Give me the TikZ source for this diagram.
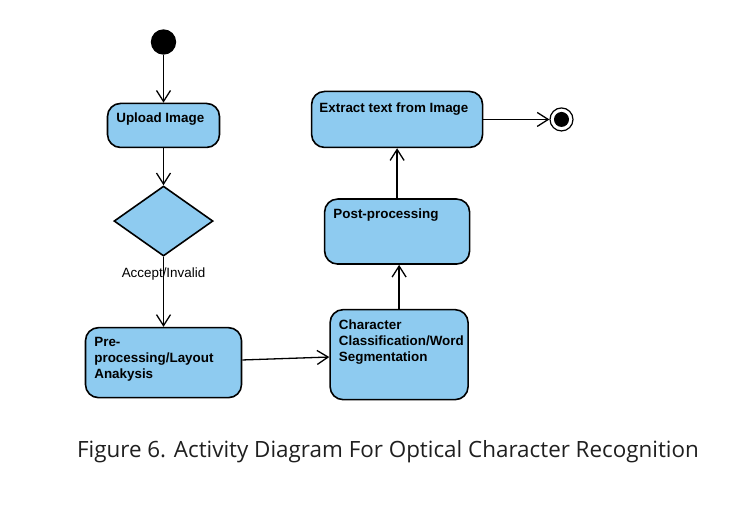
\documentclass[tikz,border=0pt]{standalone}
\usepackage{fontspec}
\setmainfont{Liberation Sans}
\newfontfamily\captionfont{Open Sans}
\usetikzlibrary{arrows.meta}
\usetikzlibrary{positioning}
\usetikzlibrary{shapes.geometric}
\tikzset{>={Straight Barb[length=11pt,width=14pt]}}
\definecolor{actblue}{RGB}{142,203,240}
\tikzstyle{act}=[draw,line width=1.6pt,rounded corners=13pt,fill=actblue,inner sep=0pt]
\tikzstyle{acttext}=[inner sep=0pt,align=left,font=\fontsize{13.4}{16}\selectfont\bfseries]

\begin{document}
\begin{tikzpicture}[x=1pt, y=-1pt, line width=1.3pt]
	\useasboundingbox (0,0) rectangle (748,513);
	% states
	\node[draw, circle, fill=black, minimum size=24pt, inner sep=0] (start) at (163.5,42) {};
	\node[act, minimum width=112pt, minimum height=44pt, below=48pt of start] (upload) {};
	\node[diamond, draw, fill=actblue, line width=1.6pt, minimum width=99pt, minimum height=70pt, inner sep=0, below=37pt of upload] (check) {};
	\node[act, minimum width=156pt, minimum height=70pt, below=70pt of check] (pre) {};
	\node[act, minimum width=138pt, minimum height=90pt, right=87pt of pre, yshift=8pt] (classify) {};
	\node[act, minimum width=145pt, minimum height=65pt, above=44pt of classify, xshift=-2pt] (post) {};
	\node[act, minimum width=171pt, minimum height=56pt, above=50pt of post] (extract) {};
	\node[draw, circle, fill=white, line width=1.2pt, minimum size=23pt, inner sep=0, right=66pt of extract,
		path picture={\fill[black] (path picture bounding box.center) circle (7.5pt);}] (end) {};
	% texts
	\node[acttext, below right=9pt and 9pt of upload.north west] (uploadtxt) {Upload Image};
	\node[acttext, below right=10pt and 9pt of pre.north west] (pretxt) {Pre-\\processing/Layout\\Anakysis};
	\node[acttext, below right=10pt and 9pt of classify.north west] (classifytxt) {Character\\Classification/Word\\Segmentation};
	\node[acttext, below right=10pt and 9pt of post.north west] (posttxt) {Post-processing};
	\node[acttext, below right=11pt and 8pt of extract.north west] (extracttxt) {Extract text from Image};
	% flows
	\draw[->] (start) -- (upload);
	\draw[->] (upload) -- (check);
	\draw[->] (check) -- node[pos=0.24, inner sep=0, font=\fontsize{13.4}{16}\selectfont] (cond) {Accept/Invalid} (pre);
	\draw[->] (pre) -- (classify);
	\draw[->] (classify.north) -- (classify.north |- post.south);
	\draw[->] (post) -- (extract);
	\draw[->] (extract) -- (end);
	% caption
	\node[font=\captionfont\fontsize{22.4}{27}\selectfont, text=black!88] (caption) at (388,452) {Figure 6. Activity Diagram For Optical Character Recognition};
\end{tikzpicture}
\end{document}
